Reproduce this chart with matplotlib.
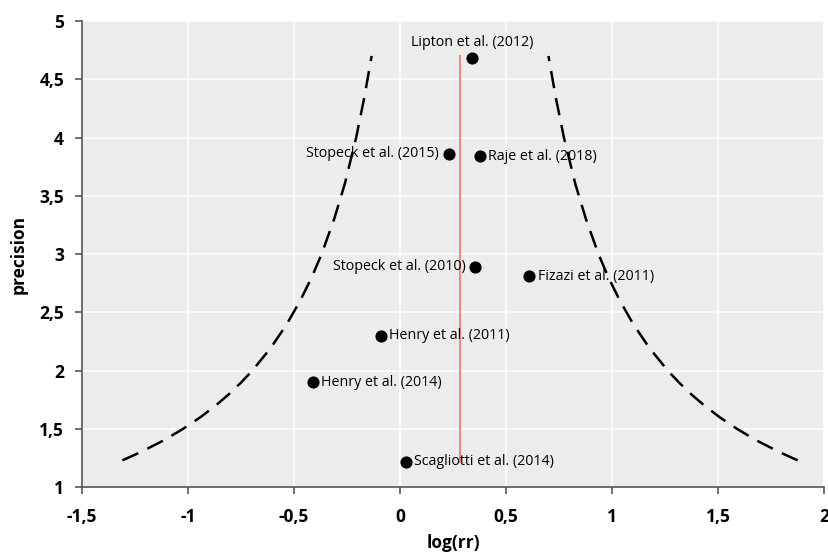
import matplotlib.pyplot as plt

# studies (log rr, precision)
studies = ['Lipton et al. (2012)', 'Stopeck et al. (2015)', 'Raje et al. (2018)',
           'Stopeck et al. (2010)', 'Fizazi et al. (2011)', 'Henry et al. (2011)',
           'Henry et al. (2014)', 'Scagliotti et al. (2014)']
log_rr = [0.34, 0.23, 0.377, 0.354, 0.61, -0.09, -0.41, 0.028]
precision = [4.68, 3.86, 3.84, 2.89, 2.81, 2.30, 1.90, 1.22]
label_side = ['top', 'left', 'right', 'left', 'right', 'right', 'right', 'right']

# pooled estimate line
pooled = 0.283
pooled_range = [1.22, 4.70]

# funnel limits
funnel_prec = [1.23, 1.3, 1.4, 1.5, 1.6, 1.7, 1.8, 1.9, 2.0, 2.2, 2.4, 2.6, 2.8,
               3.0, 3.3, 3.6, 4.0, 4.35, 4.7]
funnel_left = [-1.31, -1.225, -1.117, -1.024, -0.942, -0.87, -0.806, -0.749, -0.697,
               -0.608, -0.534, -0.471, -0.417, -0.37, -0.311, -0.261, -0.207, -0.168, -0.134]
funnel_right = [1.876, 1.791, 1.683, 1.59, 1.508, 1.436, 1.372, 1.315, 1.263, 1.174,
                1.1, 1.037, 0.983, 0.936, 0.877, 0.827, 0.773, 0.734, 0.70]

plt.rcParams['font.family'] = ['Open Sans', 'DejaVu Sans']

fig = plt.figure(figsize=(8.29, 5.6), dpi=100)
ax = fig.add_axes([0.099, 0.130, 0.895, 0.8325])
ax.set_facecolor('#ececec')

ax.plot(funnel_left, funnel_prec, color='black', lw=1.8, dashes=(7, 4))
ax.plot(funnel_right, funnel_prec, color='black', lw=1.8, dashes=(7, 4))
ax.plot([pooled, pooled], pooled_range, color='#f08888', lw=1.5)

ax.scatter(log_rr, precision, s=60, color='black', zorder=3)
for name, x, y, side in zip(studies, log_rr, precision, label_side):
    if side == 'top':
        ax.annotate(name, (x, y), xytext=(0, 6), textcoords='offset points',
                    ha='center', va='bottom', fontsize=10.3)
    elif side == 'left':
        ax.annotate(name, (x, y), xytext=(-7, 0), textcoords='offset points',
                    ha='right', va='center', fontsize=10.3)
    else:
        ax.annotate(name, (x, y), xytext=(6, 0), textcoords='offset points',
                    ha='left', va='center', fontsize=10.3)

ax.set_xlim(-1.5, 2)
ax.set_ylim(1, 5)
xt = [-1.5, -1, -0.5, 0, 0.5, 1, 1.5, 2]
yt = [1, 1.5, 2, 2.5, 3, 3.5, 4, 4.5, 5]
ax.set_xticks(xt)
ax.set_yticks(yt)
ax.set_xticklabels([f'{v:g}'.replace('.', ',') for v in xt], fontweight='bold', fontsize=12.5)
ax.set_yticklabels([f'{v:g}'.replace('.', ',') for v in yt], fontweight='bold', fontsize=12.5)
ax.grid(True, color='white', lw=1.1)
ax.set_axisbelow(True)
for s in ['top', 'right']:
    ax.spines[s].set_visible(False)
for s in ['left', 'bottom']:
    ax.spines[s].set_color('#555555')
    ax.spines[s].set_linewidth(1.2)
ax.tick_params(length=5, color='#555555', width=1.2)
ax.tick_params(axis='x', pad=10)
ax.tick_params(axis='y', pad=8)
ax.set_xlabel('log(rr)', fontweight='bold', fontsize=12.5, labelpad=6)
ax.set_ylabel('precision', fontweight='bold', fontsize=12.5, labelpad=8)

fig.savefig('out.png', dpi=100)
